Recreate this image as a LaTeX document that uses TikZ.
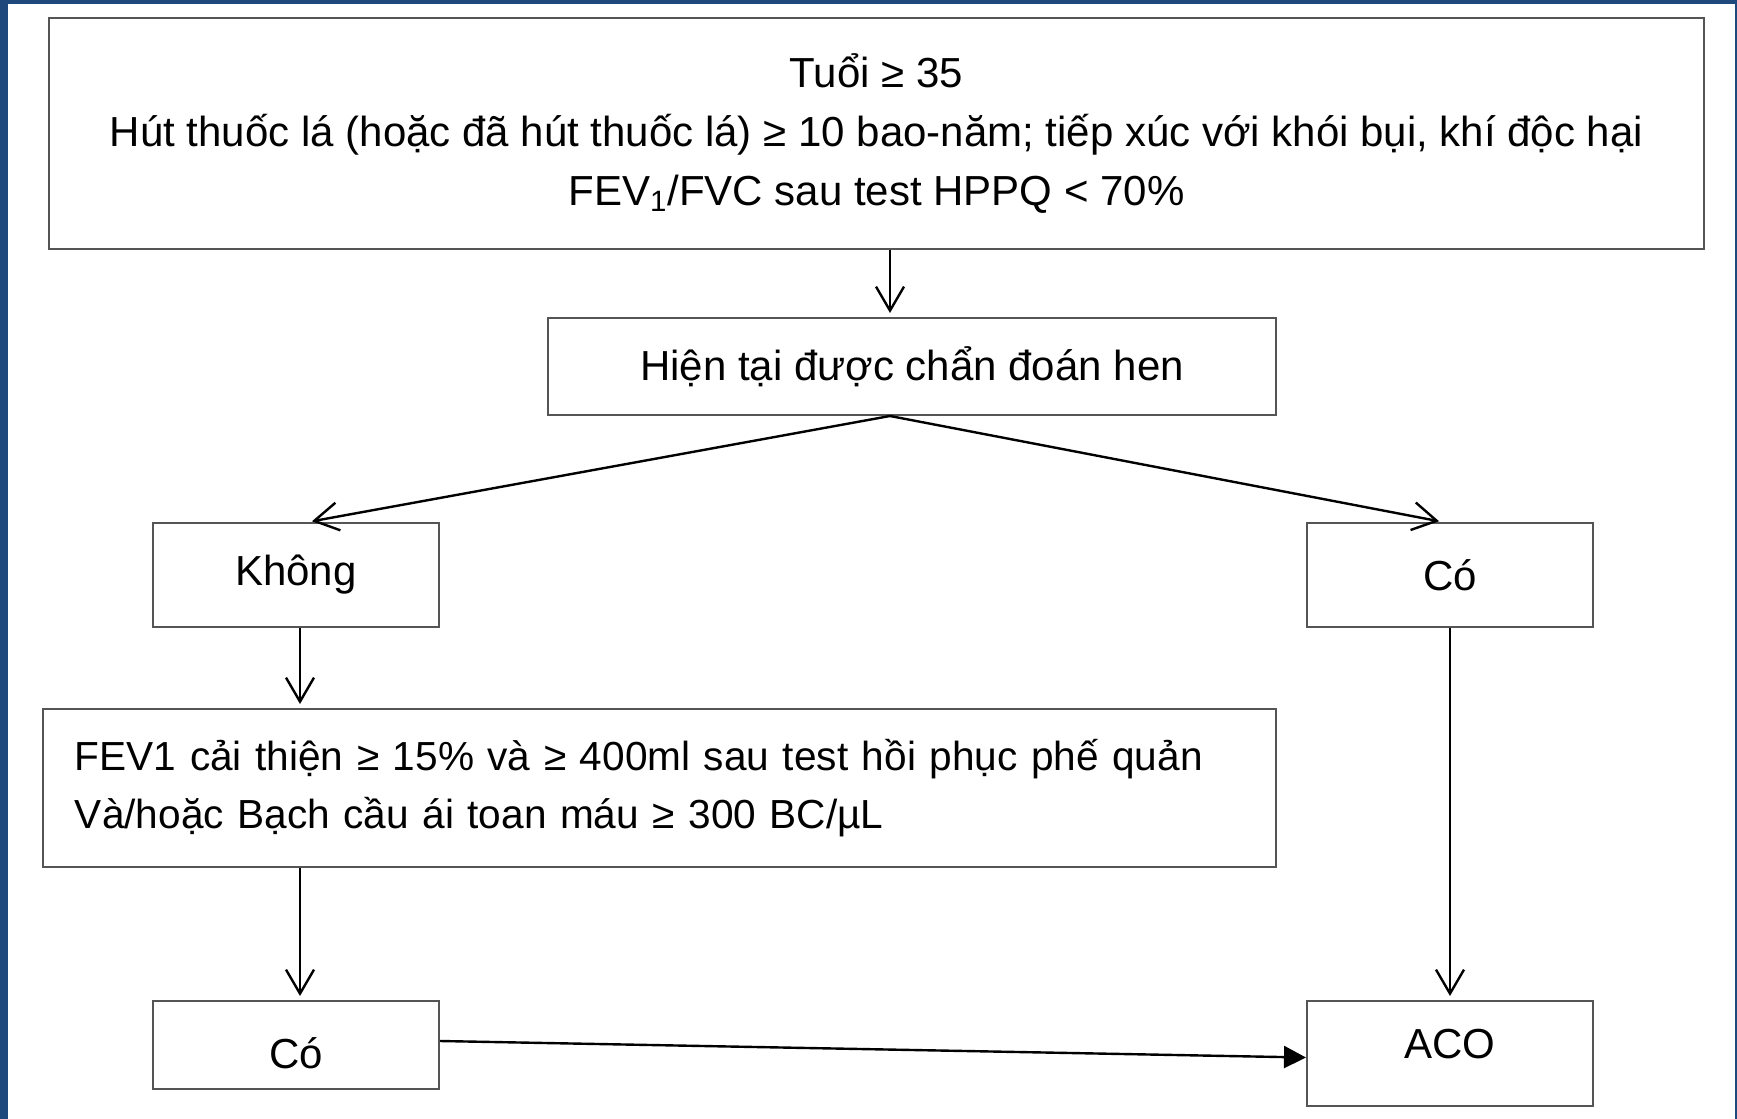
\documentclass[tikz,border=0pt]{standalone}
\usepackage{fontspec}
\setmainfont{Liberation Sans}
\usetikzlibrary{arrows.meta,positioning}
\definecolor{frameblue}{RGB}{31,73,125}
\definecolor{boxgray}{RGB}{85,85,85}

\begin{document}
\begin{tikzpicture}[x=0.5pt,y=-0.5pt,
    box/.style={draw=boxgray, line width=1pt, inner sep=0pt, align=center,
        font=\fontsize{21}{29.3}\selectfont},
    arr/.style={draw=black, line width=1.2pt, -{Straight Barb[length=12pt,width=14pt]}, shorten >=2pt},
    farr/.style={draw=black, line width=1.2pt, -{Triangle[length=11pt,width=11pt]}}]
    \useasboundingbox (0,0) rectangle (1737,1119);
    \fill[frameblue] (0,0) rectangle (1737,1119);
    \fill[white] (8,4) rectangle (1735,1119);
    \node[box, minimum width=827.5pt, minimum height=115.5pt] (risk) at (876.5,133.5)
        {Tuổi ≥ 35\\Hút thuốc lá (hoặc đã hút thuốc lá) ≥ 10 bao-năm; tiếp xúc với khói bụi, khí độc hại\\FEV\textsubscript{1}/FVC sau test HPPQ < 70\%};
    \node[box, minimum width=364pt, minimum height=48.5pt] (hen) at (912,366.5) {Hiện tại được chẩn đoán hen};
    \node[box, minimum width=143pt, minimum height=52pt] (khong) at (296,575) {Không};
    \node[box, minimum width=143pt, minimum height=52pt] (co) at (1450,575) {Có};
    \node[box, text width=584.5pt, inner xsep=16pt, minimum height=79pt, align=left,
        font=\fontsize{20.3}{29.3}\selectfont] (fev) at (659.5,788)
        {FEV1 cải thiện ≥ 15\% và ≥ 400ml sau test hồi phục phế quản\\Và/hoặc Bạch cầu ái toan máu ≥ 300 BC/µL};
    \node[box, minimum width=143pt, minimum height=44pt, text height=23pt, text depth=0pt] (cob) at (296,1045) {Có};
    \node[box, minimum width=143pt, minimum height=52.5pt, text height=15pt, text depth=10pt] (aco) at (1450,1053.5) {ACO};
    \coordinate (split) at ([xshift=-11pt]hen.south);
    \draw[arr] ([xshift=-11pt]hen.north |- risk.south) -- ([xshift=-11pt]hen.north);
    \draw[arr] (split) -- ([xshift=6pt]khong.north);
    \draw[arr] (split) -- ([xshift=-3.5pt]co.north);
    \draw[arr] ([xshift=2pt]khong.south) -- ([xshift=2pt]khong.south |- fev.north);
    \draw[arr] ([xshift=2pt]khong.south |- fev.south) -- ([xshift=2pt]cob.north);
    \draw[arr] (co.south) -- (aco.north);
    \draw[farr] ([yshift=2pt]cob.east) -- ([yshift=-2pt]aco.west);
\end{tikzpicture}
\end{document}
